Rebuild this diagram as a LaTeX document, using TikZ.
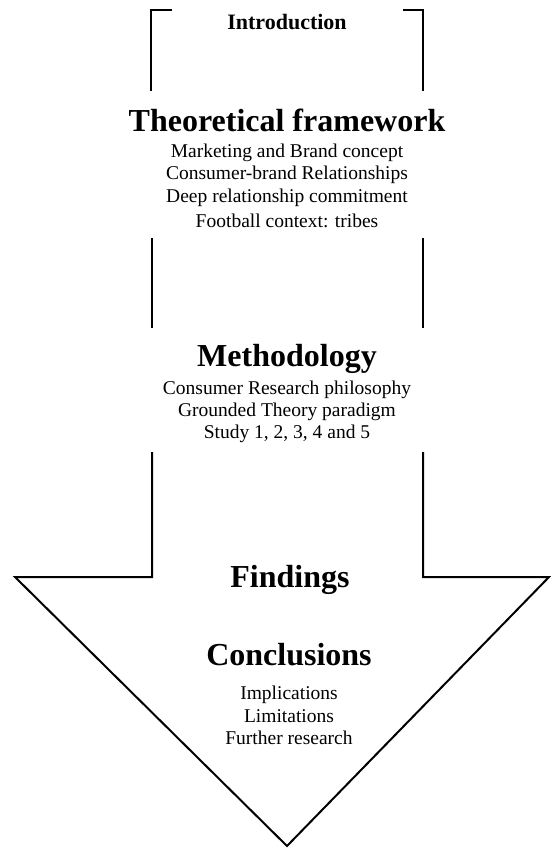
\documentclass[tikz,border=0pt]{standalone}
\usepackage{fontspec}
\setmainfont{Liberation Serif}
\begin{document}
\begin{tikzpicture}[x=1pt,y=-1pt,
  edge/.style={line width=2.3pt},
  arrowline/.style={line width=2pt, line join=miter},
  head/.style={font=\fontsize{32}{36}\selectfont\bfseries, anchor=base, inner sep=0pt},
  subhead/.style={font=\fontsize{22}{26}\selectfont\bfseries, anchor=base, inner sep=0pt},
  item/.style={font=\fontsize{19.5}{22}\selectfont, anchor=base, inner sep=0pt}]
\useasboundingbox (0,0) rectangle (551,849);

% bracket around the introduction
\draw[edge] (172,10) -- (151,10) -- (151,91);
\draw[edge] (403,10) -- (423,10) -- (423,91);

% shaft between the framework and the methodology
\draw[edge] (152,238) -- (152,328);
\draw[edge] (423,238) -- (423,328);

% lower shaft and arrow head
\draw[arrowline] (152,452) -- (152,577) -- (15,577) -- (287,846)
  -- (549,577) -- (423,577) -- (423,452);

% texts
\node[subhead] (intro) at (287,29) {Introduction};

\node[head] (theory) at (287,131) {Theoretical framework};
\node[item] (t1) at (287,157) {Marketing and Brand concept};
\node[item] (t2) at (287,179) {Consumer-brand Relationships};
\node[item] (t3) at (287,202) {Deep relationship commitment};
\node[item] (t4) at (287,227) {Football context: tribes};

\node[head] (method) at (287,366) {Methodology};
\node[item] (m1) at (287,394) {Consumer Research philosophy};
\node[item] (m2) at (287,416) {Grounded Theory paradigm};
\node[item] (m3) at (287,438) {Study 1, 2, 3, 4 and 5};

\node[head] (findings) at (290,587) {Findings};

\node[head] (concl) at (289,665) {Conclusions};
\node[item] (c1) at (289,699) {Implications};
\node[item] (c2) at (289,722) {Limitations};
\node[item] (c3) at (289,744) {Further research};
\end{tikzpicture}
\end{document}
